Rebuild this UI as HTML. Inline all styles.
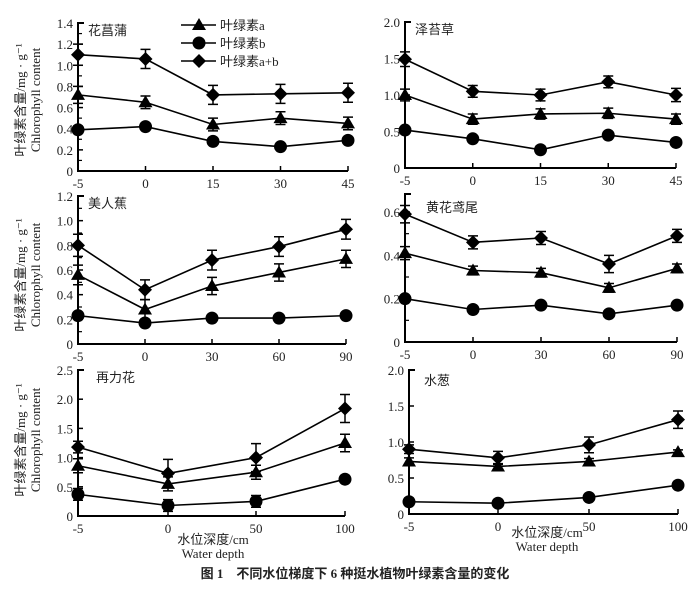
<!DOCTYPE html>
<html><head><meta charset="utf-8"><style>
body{margin:0;background:#fff;}
svg{display:block;}
text{font-family:"Liberation Serif","Noto Serif CJK SC",serif;fill:#222;}
.cjk{font-family:"Liberation Serif","Noto Sans CJK SC",sans-serif;}
</style></head><body>
<svg id="c" width="698" height="589" viewBox="0 0 698 589"></svg>
<script>
const xLabels1=["-5","0","15","30","45"];
const xLabels3=["-5","0","30","60","90"];
const xLabels5=["-5","0","50","100"];
const chlA1=[0.72,0.65,0.44,0.50,0.45], chlB1=[0.39,0.42,0.28,0.23,0.29], chlAB1=[1.10,1.06,0.72,0.73,0.74];
const errA1=[0.08,0.06,0.06,0.06,0.06], errB1=[0.02,0.02,0.02,0.02,0.02], errAB1=[0.10,0.09,0.09,0.09,0.09];
const chlA2=[1.00,0.67,0.74,0.75,0.67], chlB2=[0.52,0.40,0.25,0.45,0.35], chlAB2=[1.49,1.05,1.00,1.18,1.00];
const errA2=[0.08,0.07,0.07,0.07,0.07], errB2=[0.02,0.02,0.02,0.02,0.02], errAB2=[0.10,0.08,0.08,0.08,0.09];
const chlA3=[0.56,0.28,0.47,0.58,0.69], chlB3=[0.23,0.17,0.21,0.21,0.23], chlAB3=[0.80,0.44,0.68,0.79,0.93];
const errA3=[0.08,0.08,0.07,0.07,0.07], errB3=[0.01,0.01,0.01,0.01,0.01], errAB3=[0.09,0.08,0.08,0.08,0.08];
const chlA4=[0.41,0.33,0.32,0.25,0.34], chlB4=[0.20,0.15,0.17,0.13,0.17], chlAB4=[0.59,0.46,0.48,0.36,0.49];
const errA4=[0.03,0.02,0.02,0.02,0.02], errB4=[0.01,0.01,0.01,0.01,0.01], errAB4=[0.04,0.03,0.03,0.04,0.03];
const chlA5=[0.86,0.55,0.75,1.25], chlB5=[0.37,0.18,0.25,0.63], chlAB5=[1.18,0.73,1.00,1.84];
const errA5=[0.12,0.12,0.12,0.15], errB5=[0.10,0.10,0.10,0.06], errAB5=[0.10,0.24,0.24,0.24];
const chlA6=[0.73,0.66,0.73,0.86], chlB6=[0.17,0.15,0.23,0.40], chlAB6=[0.90,0.78,0.96,1.31];
const errA6=[0.05,0.04,0.04,0.03], errB6=[0.02,0.02,0.02,0.02], errAB6=[0.06,0.09,0.11,0.12];
const yTicks1=["0","0.2","0.4","0.6","0.8","1.0","1.2","1.4"];
const yTicks2=["0","0.5","1.0","1.5","2.0"];
const yTicks3=["0","0.2","0.4","0.6","0.8","1.0","1.2"];
const yTicks4=["0","0.2","0.4","0.6"];
const yTicks5=["0","0.5","1.0","1.5","2.0","2.5"];
const yTicks6=["0","0.5","1.0","1.5","2.0"];

const NS="http://www.w3.org/2000/svg";
const svg=document.getElementById('c');
function mk(tag,attrs,parent){const e=document.createElementNS(NS,tag);for(const k in attrs)e.setAttribute(k,attrs[k]);(parent||svg).appendChild(e);return e;}

const panels=[
 {name:"cattail",title:"花菖蒲",x0:78,x1:348,y0:171,yTop:23,ymax:1.4,tickStep:0.2,minor:true,xl:xLabels1,yt:yTicks1,a:chlA1,b:chlB1,ab:chlAB1,ea:errA1,eb:errB1,eab:errAB1,tx:88,ty:35},
 {name:"zetaicao",title:"泽苔草",x0:405,x1:676,y0:168,yTop:22,ymax:2.0,tickStep:0.5,minor:false,xl:xLabels1,yt:yTicks2,a:chlA2,b:chlB2,ab:chlAB2,ea:errA2,eb:errB2,eab:errAB2,tx:415,ty:34},
 {name:"canna",title:"美人蕉",x0:78,x1:346,y0:344,yTop:196,ymax:1.2,tickStep:0.2,minor:true,xl:xLabels3,yt:yTicks3,a:chlA3,b:chlB3,ab:chlAB3,ea:errA3,eb:errB3,eab:errAB3,tx:88,ty:208},
 {name:"yellow-iris",title:"黄花鸢尾",x0:405,x1:677,y0:342,yTop:212,ymax:0.6,tickStep:0.2,minor:true,axisTop:194,xl:xLabels3,yt:yTicks4,a:chlA4,b:chlB4,ab:chlAB4,ea:errA4,eb:errB4,eab:errAB4,tx:426,ty:212},
 {name:"thalia",title:"再力花",x0:78,x1:345,y0:516,yTop:370,ymax:2.5,tickStep:0.5,minor:false,xl:xLabels5,yt:yTicks5,a:chlA5,b:chlB5,ab:chlAB5,ea:errA5,eb:errB5,eab:errAB5,tx:96,ty:382,xs:[78,168,256,345]},
 {name:"water-onion",title:"水葱",x0:409,x1:678,y0:514,yTop:370,ymax:2.0,tickStep:0.5,minor:false,xl:xLabels5,yt:yTicks6,a:chlA6,b:chlB6,ab:chlAB6,ea:errA6,eb:errB6,eab:errAB6,tx:424,ty:385,xs:[409,498,589,678]}
];

function marker(g,kind,x,y){
 if(kind==="a"){const p=mk('polygon',{points:`${x},${y-7} ${x-7},${y+5} ${x+7},${y+5}`,fill:'#000'},g);}
 else if(kind==="b"){const c=mk('circle',{cx:x,cy:y,r:6.5,fill:'#000'},g);}
 else {const p=mk('polygon',{points:`${x},${y-7} ${x+7},${y} ${x},${y+7} ${x-7},${y}`,fill:'#000'},g);}
}

panels.forEach(P=>{
 const g=mk('g',{});
 
 
 const n=P.xl.length;
 const xs=P.xs||P.xl.map((_,i)=>P.x0+(P.x1-P.x0)*i/(n-1));
 const yS=v=>P.y0-(P.y0-P.yTop)*v/P.ymax;
 const top=P.axisTop||P.yTop;
 const ax=mk('path',{d:`M${P.x0+6},${top} H${P.x0} V${P.y0} H${P.x1}`,stroke:'#000','stroke-width':2,fill:'none'},g);
 
 
 P.yt.forEach((t,i)=>{const v=i*P.tickStep,y=yS(v);
  mk('line',{x1:P.x0,x2:P.x0+5,y1:y,y2:y,stroke:'#000','stroke-width':1.5},g);
  if(P.minor&&i<P.yt.length-1){const y2=yS(v+P.tickStep/2);mk('line',{x1:P.x0,x2:P.x0+4,y1:y2,y2:y2,stroke:'#000','stroke-width':1.2},g);}
  const tl=mk('text',{x:P.x0-5,y:y+5,'text-anchor':'end','font-size':13},g);tl.textContent=t;
  
  
 });
 xs.forEach((x,i)=>{
  mk('line',{x1:x,x2:x,y1:P.y0,y2:P.y0-5,stroke:'#000','stroke-width':1.5},g);
  const tl=mk('text',{x:x,y:P.y0+17,'text-anchor':'middle','font-size':13},g);tl.textContent=P.xl[i];
  
  
 });
 const tt=mk('text',{x:P.tx,y:P.ty,'font-size':13,class:'cjk'},g);tt.textContent=P.title;
 
 
 [["ab",P.ab,P.eab],["a",P.a,P.ea],["b",P.b,P.eb]].forEach(([k,vals,errs])=>{
  const s=mk('g',{},g);
  
  
  const pts=vals.map((v,i)=>xs[i]+','+yS(v)).join(' ');
  mk('polyline',{points:pts,fill:'none',stroke:'#000','stroke-width':1.6},s);
  vals.forEach((v,i)=>{const x=xs[i],y1=yS(v+errs[i]),y2=yS(v-errs[i]);
   const eb=mk('path',{d:`M${x},${y1}V${y2}M${x-5},${y1}H${x+5}M${x-5},${y2}H${x+5}`,stroke:'#000','stroke-width':1.5,fill:'none'},s);
   
   
   marker(s,k,x,yS(v));
  });
 });
});

const lg=mk('g',{});


[["a","叶绿素a",25],["b","叶绿素b",43],["ab","叶绿素a+b",61]].forEach(([k,t,y])=>{
 const e=mk('g',{},lg);
 
 
 mk('line',{x1:181,x2:216,y1:y,y2:y,stroke:'#000','stroke-width':1.6},e);
 marker(e,k,199,y);
 const tx=mk('text',{x:220,y:y+5,'font-size':13,class:'cjk'},e);tx.textContent=t;
});

[100,275,440].forEach((cy,i)=>{
 const t1=mk('text',{x:0,y:0,'font-size':13,class:'cjk','text-anchor':'middle',transform:`translate(25,${cy}) rotate(-90)`});
 t1.textContent="叶绿素含量/mg · g⁻¹";
 
 
 const t2=mk('text',{x:0,y:0,'font-size':13,'text-anchor':'middle',transform:`translate(40,${cy}) rotate(-90)`});
 t2.textContent="Chlorophyll content";
 
 
});

[[213,544,558],[547,537,551]].forEach(([cx,y1,y2])=>{
 const a=mk('text',{x:cx,y:y1,'font-size':13,class:'cjk','text-anchor':'middle'});a.textContent="水位深度/cm";
 
 
 const b=mk('text',{x:cx,y:y2,'font-size':13,'text-anchor':'middle'});b.textContent="Water depth";
 
 
});

const cap=mk('text',{x:355,y:578,'font-size':13,'font-weight':'bold',class:'cjk','text-anchor':'middle'});
cap.textContent="图 1　不同水位梯度下 6 种挺水植物叶绿素含量的变化";


</script>
</body></html>
